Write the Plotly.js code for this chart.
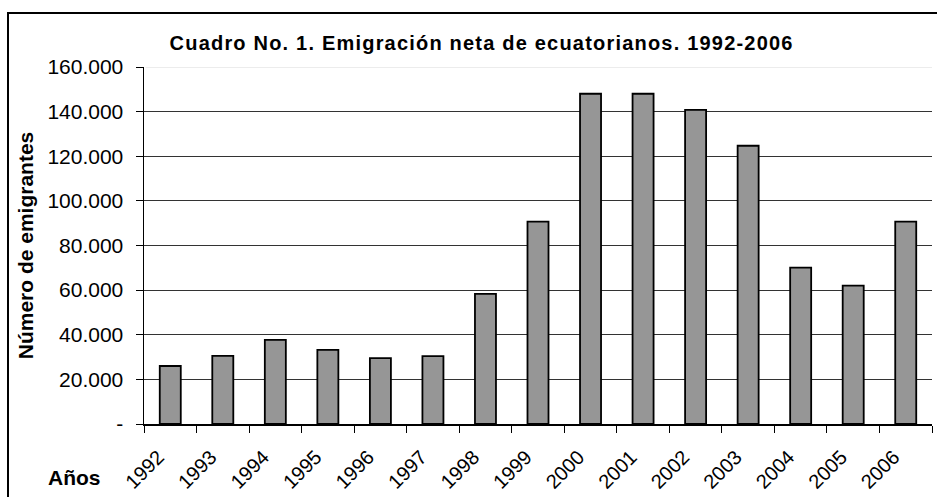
<!DOCTYPE html>
<html><head><meta charset="utf-8">
<script src="https://cdn.plot.ly/plotly-3.0.1.min.js"></script>
<style>
html,body{margin:0;padding:0;background:#fff;}
#wrap{position:relative;width:937px;height:497px;overflow:hidden;}
#chart{position:absolute;left:0;top:0;width:937px;height:497px;}
#frame{position:absolute;left:7px;top:12px;width:960px;height:520px;border:2px solid #000;pointer-events:none;}
.gtitle{letter-spacing:1.2px;}
</style></head>
<body>
<div id="wrap"><div id="chart"></div><div id="frame"></div></div>
<script>
const years = ['1992','1993','1994','1995','1996','1997','1998','1999','2000','2001','2002','2003','2004','2005','2006'];
const emigrants = [26000,30500,37700,33200,29500,30400,58300,90700,148000,148000,140800,124700,70100,62000,90700];
const yTickVals = [0,20000,40000,60000,80000,100000,120000,140000,160000];
const yTickText = ['-','20.000','40.000','60.000','80.000','100.000','120.000','140.000','160.000'];
const titleText = 'Cuadro No. 1. Emigración neta de ecuatorianos. 1992-2006';
const yTitle = 'Número de emigrantes';
const xTitle = 'Años';

const trace = {
  type:'bar', x: years, y: emigrants,
  marker:{color:'#969696', line:{color:'#000', width:1.8}},
  hoverinfo:'skip'
};
const layout = {
  width:937, height:497,
  margin:{l:144, r:5, t:67, b:73},
  paper_bgcolor:'rgba(0,0,0,0)', plot_bgcolor:'#fff',
  bargap:0.6,
  showlegend:false,
  font:{family:'Arial, Liberation Sans, sans-serif', color:'#000'},
  title:{text:'<b>'+titleText+'</b>', font:{size:20, color:'#000'}, x:0.514, xanchor:'center', y:0.913, yanchor:'middle'},
  xaxis:{type:'category', tickangle:-45, tickson:'boundaries', ticks:'outside', ticklen:7, tickcolor:'#000', tickwidth:1,
    showline:true, linecolor:'#000', linewidth:1.5, showgrid:false, tickfont:{size:20, color:'#000'},
    ticklabelstandoff:12, ticklabelshift:-12, fixedrange:true},
  yaxis:{range:[0,160000], tickvals:yTickVals, ticktext:yTickText, ticks:'outside', ticklen:7, tickcolor:'#000',
    showline:true, linecolor:'#000', linewidth:1.5, showgrid:true, gridcolor:'#333', gridwidth:1, zeroline:false,
    tickfont:{size:21, color:'#000'}, ticklabelstandoff:8,
    title:{text:'<b>'+yTitle+'</b>', font:{size:21, color:'#000'}, standoff:8}, fixedrange:true},
  shapes:[{type:'line', xref:'paper', yref:'y', x0:0.002, x1:1, y0:160000, y1:160000, line:{color:'#e6e6e6', width:1.5}, layer:'above'}],
  annotations:[{text:'<b>'+xTitle+'</b>', xref:'paper', yref:'paper', x:-0.0876, y:-0.151, xanchor:'center', yanchor:'middle', showarrow:false, font:{size:21, color:'#000'}}]
};
Plotly.newPlot('chart',[trace],layout,{displayModeBar:false, staticPlot:true});
</script>
</body></html>
